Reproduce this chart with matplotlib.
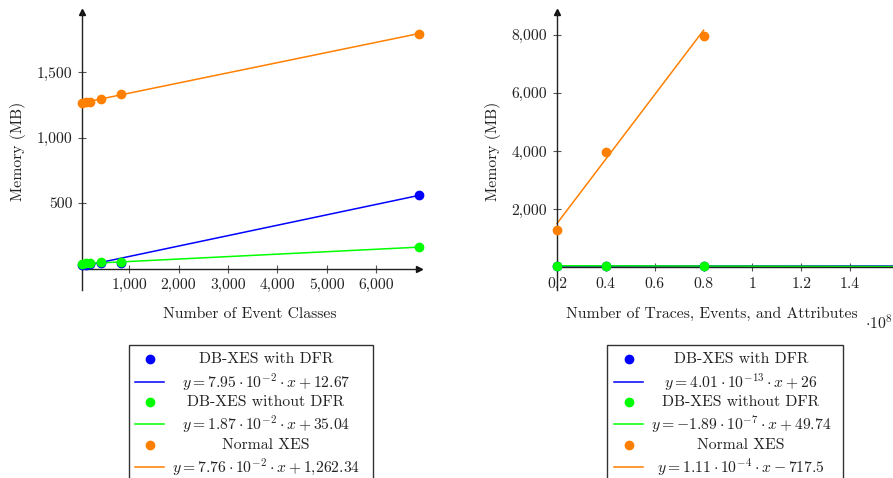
import numpy as np
import matplotlib
matplotlib.use("Agg")
import matplotlib.pyplot as plt
from matplotlib.lines import Line2D
from matplotlib.patches import Rectangle
from matplotlib.ticker import FuncFormatter

plt.rcParams["font.family"] = ["cmr10", "DejaVu Serif"]
plt.rcParams["mathtext.fontset"] = "cm"
plt.rcParams["axes.formatter.use_mathtext"] = True

# --- data ---
classes = [45, 130, 210, 430, 840, 6870]
cls_with_dfr = [28, 30, 32, 45, 40, 561]
cls_without_dfr = [38, 40, 40, 52, 50, 162]
cls_normal = [1266, 1272, 1272, 1292, 1337, 1795]
cls_fit = {"with": (7.95e-2, 12.67), "without": (1.87e-2, 35.04), "normal": (7.76e-2, 1262.34)}
cls_eq = [r"$y =7.95\cdot 10^{-2}\cdot x + 12.67$",
          r"$y =1.87\cdot 10^{-2}\cdot x + 35.04$",
          r"$y =7.76\cdot 10^{-2}\cdot x + 1{,}262.34$"]

sizes = [0.2e8, 0.4e8, 0.8e8, 1.6e8]
size_with_dfr = [26, 26, 26, 26]
size_without_dfr = [45, 48, 35, 20]
size_normal = [1276, 3976, 7966]
size_fit = {"with": (4.01e-13, 26), "without": (-1.89e-7, 49.74), "normal": (1.11e-4, -717.5)}
size_eq = [r"$y =4.01\cdot 10^{-13}\cdot x + 26$",
           r"$y =-1.89\cdot 10^{-7}\cdot x + 49.74$",
           r"$y =1.11\cdot 10^{-4}\cdot x - 717.5$"]

series_names = ["DB-XES with DFR", "DB-XES without DFR", "Normal XES"]
colors = ["#0000ff", "#00ff00", "#ff8000"]

W, H = 893, 478
fig = plt.figure(figsize=(W / 100, H / 100), dpi=100)


def px(x0, y0, x1, y1):
    return [x0 / W, 1 - y1 / H, (x1 - x0) / W, (y1 - y0) / H]


def style_axes(ax):
    for s in ["top", "right"]:
        ax.spines[s].set_visible(False)
    ax.spines["bottom"].set_position(("data", 0))
    for s in ["left", "bottom"]:
        ax.spines[s].set_color("#222222")
        ax.spines[s].set_linewidth(1.0)
    ax.tick_params(direction="inout", length=6, width=0.8, color="#555555",
                   labelsize=11.3, labelcolor="#222222", pad=4)
    ax.plot(1, 0, ">", color="#111111", ms=4, transform=ax.get_yaxis_transform(), clip_on=False)
    ax.plot(0, 1, "^", color="#111111", ms=4, transform=ax.transAxes, clip_on=False)


def draw(ax, xs, ys_list, fits):
    for xs_i, ys, fit, c in zip(xs, ys_list, fits, colors):
        ax.plot(xs_i[:len(ys)], ys, "o", color=c, ms=6, zorder=3, clip_on=False)
        xx = np.array([min(xs_i[:len(ys)]), max(xs_i[:len(ys)])])
        ax.plot(xx, fit[0] * xx + fit[1], "-", color=c, lw=1.1, zorder=2, clip_on=False)


comma = FuncFormatter(lambda v, p: f"{v:,.0f}")

# left panel
ax1 = fig.add_axes(px(82, 12, 419, 290))
style_axes(ax1)
draw(ax1, [classes] * 3, [cls_with_dfr, cls_without_dfr, cls_normal],
     [cls_fit["with"], cls_fit["without"], cls_fit["normal"]])
ax1.set_xlim(min(classes), max(classes))
ax1.set_ylim(-164, 1960)
ax1.set_xticks([1000, 2000, 3000, 4000, 5000, 6000])
ax1.set_yticks([500, 1000, 1500])
ax1.xaxis.set_major_formatter(comma)
ax1.yaxis.set_major_formatter(comma)

# right panel
ax2 = fig.add_axes(px(557, 12, 899, 290))
style_axes(ax2)
draw(ax2, [sizes] * 3, [size_with_dfr, size_without_dfr, size_normal],
     [size_fit["with"], size_fit["without"], size_fit["normal"]])
ax2.set_xlim(min(sizes), max(sizes))
ax2.set_ylim(-790, 8790)
ax2.set_xticks([0.2e8, 0.4e8, 0.6e8, 0.8e8, 1.0e8, 1.2e8, 1.4e8])
ax2.set_yticks([2000, 4000, 6000, 8000])
ax2.xaxis.set_major_formatter(FuncFormatter(lambda v, p: f"{v / 1e8:g}"))
ax2.yaxis.set_major_formatter(comma)

# axis labels
fs = 11.3
fig.text(18 / W, 1 - 151 / H, "Memory (MB)", rotation=90, ha="center", va="center", fontsize=fs, color="#222222")
fig.text(493 / W, 1 - 151 / H, "Memory (MB)", rotation=90, ha="center", va="center", fontsize=fs, color="#222222")
fig.text(250 / W, 1 - 314 / H, "Number of Event Classes", ha="center", va="center", fontsize=fs, color="#222222")
fig.text(712 / W, 1 - 314 / H, "Number of Traces, Events, and Attributes", ha="center", va="center",
         fontsize=fs, color="#222222")
fig.text(879 / W, 1 - 323 / H, r"$\cdot 10^{8}$", ha="center", va="center", fontsize=fs, color="#222222")


# legends drawn by hand so the text is centred like pgfplots
def legend(x0, x1, line_x, text_x, eqs):
    fig.add_artist(Rectangle((x0 / W, -0.05), (x1 - x0) / W, 1 - 345 / H + 0.05, transform=fig.transFigure,
                             fill=False, edgecolor="#333333", lw=1.0))
    rows = [359, 382, 402, 424, 445, 467]
    for i, (name, eq, c) in enumerate(zip(series_names, eqs, colors)):
        ym = 1 - rows[2 * i] / H
        yl = 1 - rows[2 * i + 1] / H
        fig.add_artist(Line2D([(line_x[0] + line_x[1]) / 2 / W], [ym], marker="o", ms=6, color=c,
                              ls="none", transform=fig.transFigure))
        fig.add_artist(Line2D([line_x[0] / W, line_x[1] / W], [yl, yl], color=c, lw=1.1,
                              transform=fig.transFigure))
        fig.text(text_x / W, ym, name, ha="center", va="center", fontsize=fs, color="#222222")
        fig.text(text_x / W, yl, eq, ha="center", va="center", fontsize=fs, color="#222222")


legend(129, 373, (135, 164), 266, cls_eq)
legend(607, 843, (614, 643), 741, size_eq)

fig.savefig("out.png", dpi=100)
